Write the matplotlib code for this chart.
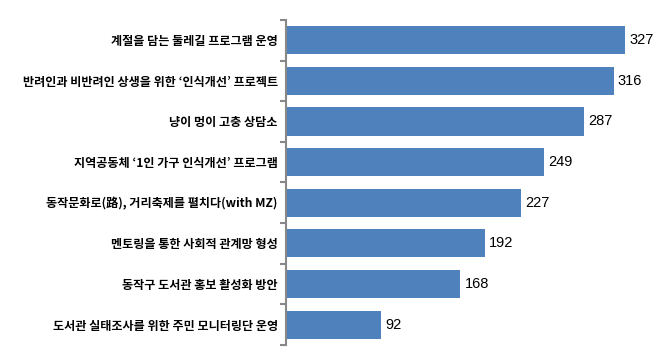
import matplotlib.pyplot as plt

labels = [
    '계절을 담는 둘레길 프로그램 운영',
    '반려인과 비반려인 상생을 위한 ‘인식개선’ 프로젝트',
    '냥이 멍이 고충 상담소',
    '지역공동체 ‘1인 가구 인식개선’ 프로그램',
    '동작문화로(路), 거리축제를 펼치다(with MZ)',
    '멘토링을 통한 사회적 관계망 형성',
    '동작구 도서관 홍보 활성화 방안',
    '도서관 실태조사를 위한 주민 모니터링단 운영',
]
values = [327, 316, 287, 249, 227, 192, 168, 92]

fig = plt.figure(figsize=(6.56, 3.63), dpi=100)
ax = fig.add_axes([0.436, 0.05, 0.547, 0.895])

pos = list(range(len(values)))
ax.barh(pos, values, height=0.69, color='#4F81BD')
ax.set_ylim(len(values) - 0.5, -0.5)
ax.set_xlim(0, 346)

# value labels at bar ends
for y, v in zip(pos, values):
    ax.annotate(str(v), (v, y), xytext=(3, 0), textcoords='offset points',
                va='center', ha='left', fontsize=10.5, family='Liberation Sans')

ax.set_yticks(pos)
ax.set_yticklabels(labels, family=['Noto Sans CJK KR', 'DejaVu Sans'],
                   fontsize=8.7, fontweight='bold')
ax.tick_params(axis='y', length=0, pad=6)
ax.set_yticks([i - 0.5 for i in range(len(values) + 1)], minor=True)
ax.tick_params(axis='y', which='minor', length=4, width=1.5, color='#888888')
ax.set_xticks([])

for s in ['top', 'right', 'bottom']:
    ax.spines[s].set_visible(False)
ax.spines['left'].set_color('#888888')
ax.spines['left'].set_linewidth(1.5)

fig.savefig('out.png', dpi=100)
